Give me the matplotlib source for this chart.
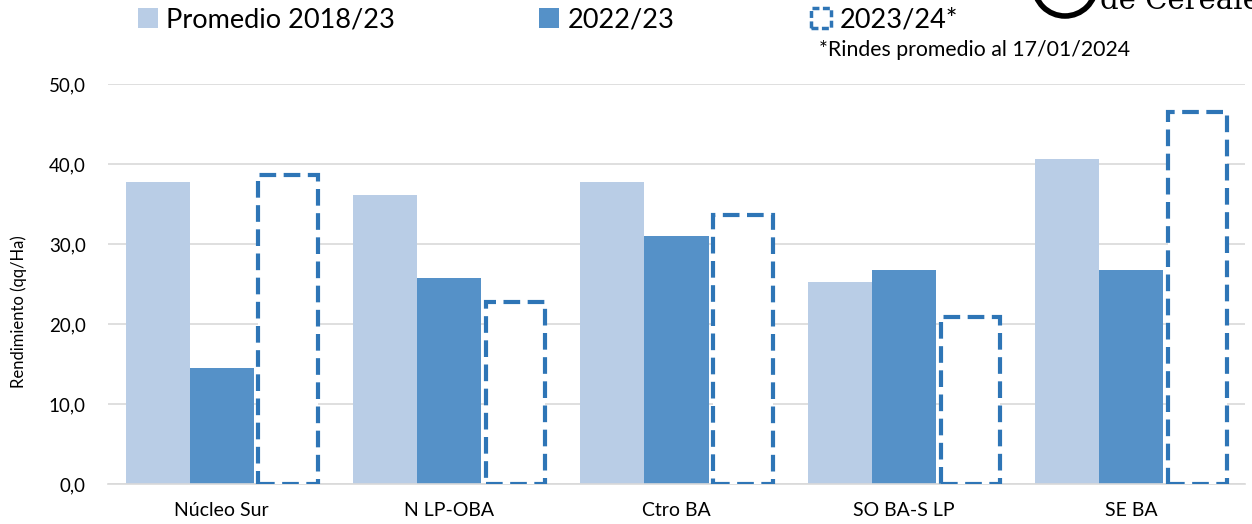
import numpy as np
import matplotlib.pyplot as plt
from matplotlib.patches import Patch, Ellipse

plt.rcParams['font.family'] = ['Lato', 'DejaVu Sans']

# Datos
regiones = ["Núcleo Sur", "N LP-OBA", "Ctro BA", "SO BA-S LP", "SE BA"]
promedio = [37.8, 36.1, 37.7, 25.2, 40.6]
camp_2223 = [14.5, 25.8, 31.0, 26.8, 26.8]
camp_2324 = [38.6, 22.8, 33.6, 20.9, 46.5]
series = ["Promedio 2018/23", "2022/23", "2023/24*"]

c_prom = "#B9CDE6"
c_2223 = "#5591C8"
c_2324 = "#2E75B6"

fig = plt.figure(figsize=(12.52, 5.24), dpi=100)
ax = fig.add_axes([108 / 1252, 40 / 524, 1137 / 1252, 400 / 524])

x = np.arange(len(regiones))
w = 0.282
ax.bar(x - w, promedio, w, color=c_prom, zorder=2)
ax.bar(x, camp_2223, w, color=c_2223, zorder=2)
ax.bar(x + w + 0.01, camp_2324, w - 0.02, facecolor="white", edgecolor=c_2324,
       linewidth=3, linestyle=(0, (4, 1.8)), zorder=3)

ax.set_xlim(-0.5, len(regiones) - 0.5)
ax.set_ylim(0, 50)
ax.set_yticks(np.arange(0, 51, 10))
ax.set_yticklabels([f"{v:.1f}".replace(".", ",") for v in np.arange(0, 51, 10)], fontsize=13.5)
ax.set_xticks(x)
ax.set_xticklabels(regiones, fontsize=14)
ax.tick_params(axis="both", length=0, pad=16, colors="black")
ax.tick_params(axis="x", pad=13)
ax.grid(axis="y", color="#D9D9D9", linewidth=1.2, zorder=0)
for s in ["top", "right", "left"]:
    ax.spines[s].set_visible(False)
ax.spines["bottom"].set_color("#D9D9D9")
ax.spines["bottom"].set_linewidth(1.2)
ax.set_ylabel("Rendimiento (qq/Ha)", fontsize=12)
ax.yaxis.set_label_coords(-0.071, 0.43)

# Leyenda
handles = [Patch(facecolor=c_prom), Patch(facecolor=c_2223),
           Patch(facecolor="white", edgecolor=c_2324, linewidth=2.5, linestyle=(0, (2, 1)))]
posiciones = [138 / 1252, 539 / 1252, 811 / 1252]
for h, nombre, px in zip(handles, series, posiciones):
    leg = fig.legend([h], [nombre], loc="center left", bbox_to_anchor=(px, 1 - 20 / 524),
                     frameon=False, fontsize=19.5, handlelength=0.75, handleheight=0.8,
                     handletextpad=0.3, borderpad=0, borderaxespad=0)
fig.text(819 / 1252, 1 - 50 / 524, "*Rindes promedio al 17/01/2024", fontsize=15.3,
         va="center", ha="left")

# Logo recortado
fig.patches.append(Ellipse((1065 / 1252, 1 - (-15) / 524), 62 / 1252, 62 / 524,
                           transform=fig.transFigure, facecolor="white",
                           edgecolor="black", linewidth=4))
fig.text(1100 / 1252, 1 - 9 / 524, "de Cereales", family="DejaVu Serif",
         fontsize=21, va="baseline", ha="left")

fig.savefig("out.png", dpi=100)
